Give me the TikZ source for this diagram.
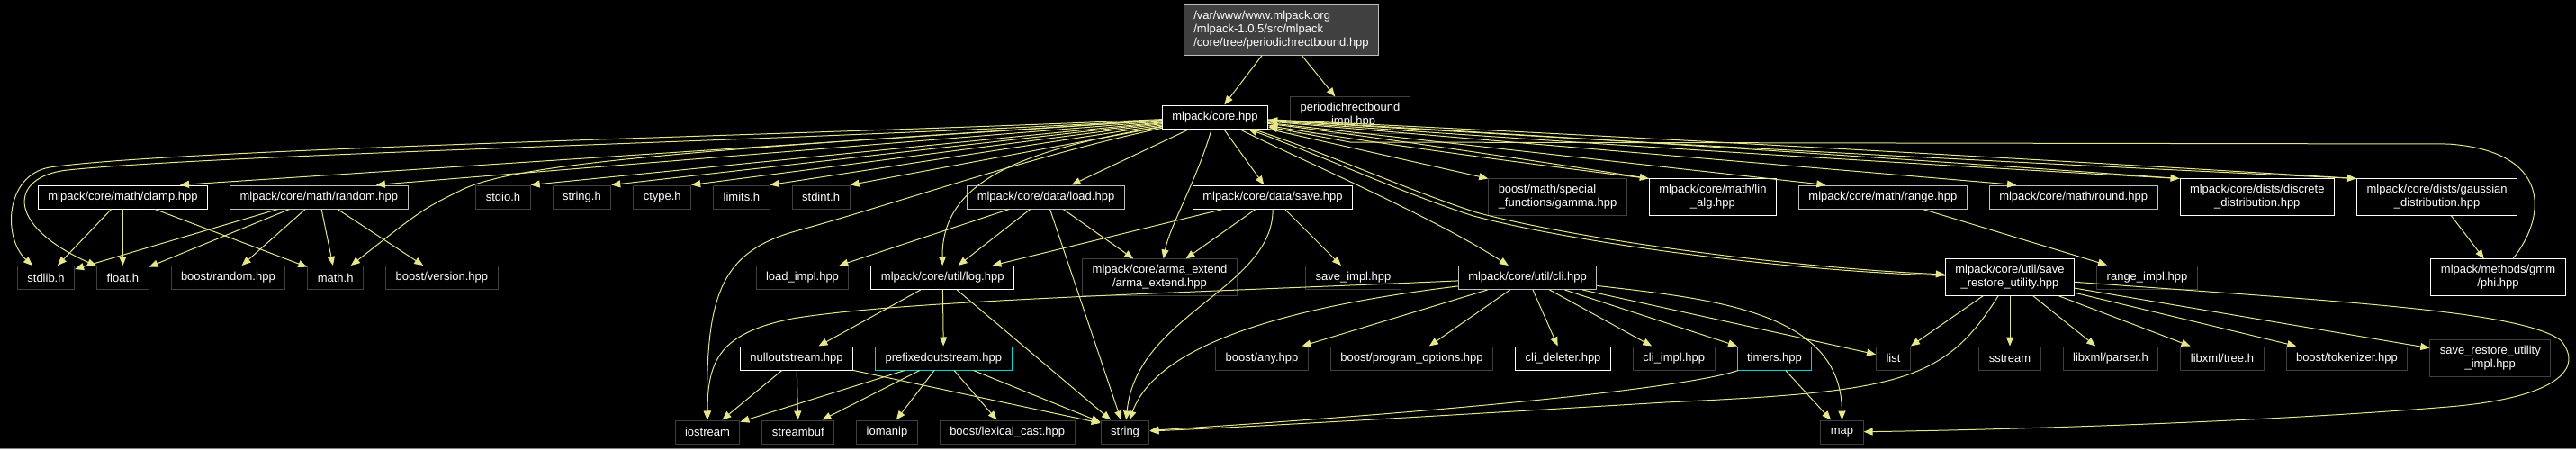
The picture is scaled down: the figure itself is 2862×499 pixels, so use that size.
\documentclass[tikz,border=0pt]{standalone}
\usepackage{fontspec}
\setmainfont{Liberation Sans}
\usetikzlibrary{arrows.meta, positioning}
\definecolor{dxedge}{RGB}{230,230,140}
\definecolor{dxdark}{RGB}{64,64,64}
\definecolor{dxlight}{RGB}{191,191,191}
\definecolor{dxcyan}{RGB}{0,215,215}

\begin{document}
\begin{tikzpicture}[x=1pt, y=-1pt, node distance=24pt,
  box/.style={rectangle, draw=white, line width=1pt, text=white, font=\fontsize{13}{15}\selectfont, inner xsep=11pt, inner ysep=6.5pt, minimum height=26pt, align=center},
  greybox/.style={box, draw=dxlight},
  extbox/.style={box, draw=dxdark},
  cyanbox/.style={box, draw=dxcyan},
  rootbox/.style={box, draw=dxlight, fill=dxdark, align=left},
  arr/.style={-{Triangle[length=10pt, width=8pt]}, draw=dxedge, line width=1pt}
]
\useasboundingbox[fill=black] (0,0) rectangle (2862,499);
\draw[gray, line width=1pt] (0,498.5) -- (2862,498.5);

\node[rootbox] (root) at (1423.5,33.5) {/var/www/www.mlpack.org\\/mlpack-1.0.5/src/mlpack\\/core/tree/periodichrectbound.hpp};
\node[box] (core) at (1350,130) {mlpack/core.hpp};
\node[extbox, right=of core, yshift=2pt] (periodicimpl) {periodichrectbound\\\_impl.hpp};

\node[box] (clamp) at (136.5,219) {mlpack/core/math/clamp.hpp};
\node[greybox, right=of clamp] (random) {mlpack/core/math/random.hpp};
\node[extbox] (stdio) at (559,219) {stdio.h};
\node[extbox, right=of stdio] (stringh) {string.h};
\node[extbox, right=of stringh] (ctype) {ctype.h};
\node[extbox, right=of ctype] (limits) {limits.h};
\node[extbox, right=of limits] (stdint) {stdint.h};
\node[greybox] (load) at (1162,219) {mlpack/core/data/load.hpp};
\node[box] (save) at (1414,219) {mlpack/core/data/save.hpp};
\node[extbox, align=left] (gamma) at (1730.5,219) {boost/math/special\\\_functions/gamma.hpp};
\node[box, right=of gamma] (linalg) {mlpack/core/math/lin\\\_alg.hpp};
\node[greybox, right=of linalg] (range) {mlpack/core/math/range.hpp};
\node[greybox, right=of range] (round) {mlpack/core/math/round.hpp};
\node[box, right=of round] (discrete) {mlpack/core/dists/discrete\\\_distribution.hpp};
\node[box, right=of discrete] (gaussian) {mlpack/core/dists/gaussian\\\_distribution.hpp};

\node[extbox] (stdlib) at (51,308.5) {stdlib.h};
\node[extbox, right=of stdlib] (floath) {float.h};
\node[extbox, right=of floath] (brandom) {boost/random.hpp};
\node[extbox, right=of brandom] (mathh) {math.h};
\node[extbox, right=of mathh] (bversion) {boost/version.hpp};
\node[extbox] (loadimpl) at (891.5,308.5) {load\_impl.hpp};
\node[box, right=of loadimpl] (log) {mlpack/core/util/log.hpp};
\node[extbox] (armaext) at (1288.5,308) {mlpack/core/arma\_extend\\/arma\_extend.hpp};
\node[extbox] (saveimpl) at (1503.5,308.5) {save\_impl.hpp};
\node[greybox] (cli) at (1697,308.5) {mlpack/core/util/cli.hpp};
\node[box] (saverestore) at (2233,308) {mlpack/core/util/save\\\_restore\_utility.hpp};
\node[extbox, right=of saverestore] (rangeimpl) {range\_impl.hpp};
\node[box] (phi) at (2775.5,308) {mlpack/methods/gmm\\/phi.hpp};

\node[box] (nullout) at (885,398) {nulloutstream.hpp};
\node[cyanbox, right=of nullout] (prefixed) {prefixedoutstream.hpp};
\node[extbox] (bany) at (1402,398) {boost/any.hpp};
\node[extbox, right=of bany] (bpo) {boost/program\_options.hpp};
\node[box, right=of bpo] (clidel) {cli\_deleter.hpp};
\node[extbox, right=of clidel] (cliimpl) {cli\_impl.hpp};
\node[cyanbox, right=of cliimpl] (timers) {timers.hpp};
\node[extbox] (list) at (2103.5,398) {list};
\node[extbox] (sstream) at (2233,398) {sstream};
\node[extbox, right=of sstream] (xmlparser) {libxml/parser.h};
\node[extbox, right=of xmlparser] (xmltree) {libxml/tree.h};
\node[extbox, right=of xmltree] (btok) {boost/tokenizer.hpp};
\node[extbox, right=of btok] (srimpl) {save\_restore\_utility\\\_impl.hpp};

\node[extbox] (iostream) at (786,480) {iostream};
\node[extbox, right=of iostream] (streambuf) {streambuf};
\node[extbox, right=of streambuf] (iomanip) {iomanip};
\node[extbox, right=of iomanip] (blexical) {boost/lexical\_cast.hpp};
\node[extbox, right=28pt of blexical] (string) {string};
\node[extbox] (map) at (2046.5,480) {map};

% periodichrectbound.hpp
\draw[arr] (root) -- (core);
\draw[arr] (root) -- (periodicimpl);
% core.hpp
\draw[arr] (core) .. controls (900,150) and (200,165) .. (55,186) .. controls (5,195) and (3,265) .. (stdlib);
\draw[arr] (core) .. controls (900,156) and (250,171) .. (75,189) .. controls (10,196) and (5,250) .. (floath);
\draw[arr] (core) -- (clamp.12);
\draw[arr] (core) -- (random.12);
\draw[arr] (core) .. controls (800,165) and (580,180) .. (515,210) .. controls (470,232) .. (mathh);
\draw[arr] (core) -- (stdio.north east);
\draw[arr] (core) -- (stringh.north east);
\draw[arr] (core) -- (ctype.north east);
\draw[arr] (core) -- (limits.north east);
\draw[arr] (core) -- (stdint.north east);
\draw[arr] (core) .. controls (1150,165) and (1046,195) .. (log);
\draw[arr] (core) .. controls (1150,172) and (1000,225) .. (880,258) .. controls (800,282) and (784,330) .. (iostream);
\draw[arr] (core) -- (load);
\draw[arr] (core) -- (save);
\draw[arr] (core) .. controls (1330,200) and (1300,250) .. (armaext);
\draw[arr] (core) .. controls (1450,180) and (1590,240) .. (cli);
\draw[arr] (core) -- (gamma.north west);
\draw[arr] (core) .. controls (1510,150) and (1670,173) .. (linalg.north west);
\draw[arr] (core) -- (range.168);
\draw[arr] (core) -- (round.168);
\draw[arr] (core) .. controls (1707,150) and (2065,173) .. (discrete.north west);
\draw[arr] (core) .. controls (1773,150) and (2197,173) .. (gaussian.north west);
\draw[arr] (core) .. controls (1480,172) and (1560,210) .. (1640,236) .. controls (1760,268) and (2000,298) .. (saverestore);
% back to core.hpp
\draw[arr] (linalg.north west) .. controls (1670,179) and (1510,156) .. (core);
\draw[arr] (discrete.north west) .. controls (2065,179) and (1707,156) .. (core);
\draw[arr] (gaussian.north west) .. controls (2197,179) and (1773,156) .. (core);
\draw[arr] (saverestore) .. controls (2000,302) and (1758,272) .. (1637,240) .. controls (1556,214) and (1476,176) .. (core);
\draw[arr] (phi) .. controls (2830,240) and (2835,168) .. (2720,160) -- (1500,158) -- (core);
\draw[arr] (gaussian) -- (phi);
% math
\draw[arr] (clamp) -- (stdlib);
\draw[arr] (clamp) -- (floath);
\draw[arr] (clamp) -- (mathh);
\draw[arr] (random) -- (stdlib);
\draw[arr] (random) -- (floath);
\draw[arr] (random) -- (brandom);
\draw[arr] (random) -- (mathh);
\draw[arr] (random) -- (bversion);
\draw[arr] (range) -- (rangeimpl);
% data
\draw[arr] (load) -- (loadimpl);
\draw[arr] (load) -- (log);
\draw[arr] (load) -- (armaext);
\draw[arr] (load) -- (string);
\draw[arr] (save) -- (log);
\draw[arr] (save) -- (armaext);
\draw[arr] (save) -- (saveimpl);
\draw[arr] (save) .. controls (1415,320) and (1262,350) .. (string);
% util
\draw[arr] (log) -- (nullout);
\draw[arr] (log) -- (prefixed);
\draw[arr] (log) -- (string);
\draw[arr] (nullout) -- (iostream);
\draw[arr] (nullout) -- (streambuf);
\draw[arr] (nullout) -- (string.160);
\draw[arr] (prefixed) -- (iostream);
\draw[arr] (prefixed) -- (streambuf);
\draw[arr] (prefixed) -- (iomanip);
\draw[arr] (prefixed) -- (blexical);
\draw[arr] (prefixed) -- (string);
\draw[arr] (cli) .. controls (1300,326) and (1000,334) .. (880,354) .. controls (800,370) and (786,400) .. (iostream);
\draw[arr] (cli) .. controls (1480,335) and (1290,370) .. (string);
\draw[arr] (cli) -- (bany);
\draw[arr] (cli) -- (bpo);
\draw[arr] (cli) -- (clidel);
\draw[arr] (cli) -- (cliimpl);
\draw[arr] (cli) -- (timers);
\draw[arr] (cli) -- (list);
\draw[arr] (cli) .. controls (1900,332) and (2046,345) .. (map);
\draw[arr] (timers) -- (map);
\draw[arr] (timers) .. controls (1870,432) and (1600,458) .. (string);
\draw[arr] (saverestore) -- (list);
\draw[arr] (saverestore) .. controls (2160,425) and (2110,435) .. (1850,447) .. controls (1500,468) and (1350,476) .. (string);
\draw[arr] (saverestore) -- (sstream);
\draw[arr] (saverestore) -- (xmlparser);
\draw[arr] (saverestore) -- (xmltree);
\draw[arr] (saverestore) -- (btok);
\draw[arr] (saverestore) -- (srimpl);
\draw[arr] (saverestore) .. controls (2600,335) and (2800,345) .. (2845,378) .. controls (2872,410) and (2840,442) .. (2720,452) .. controls (2500,470) and (2200,478) .. (map);
\end{tikzpicture}
\end{document}
